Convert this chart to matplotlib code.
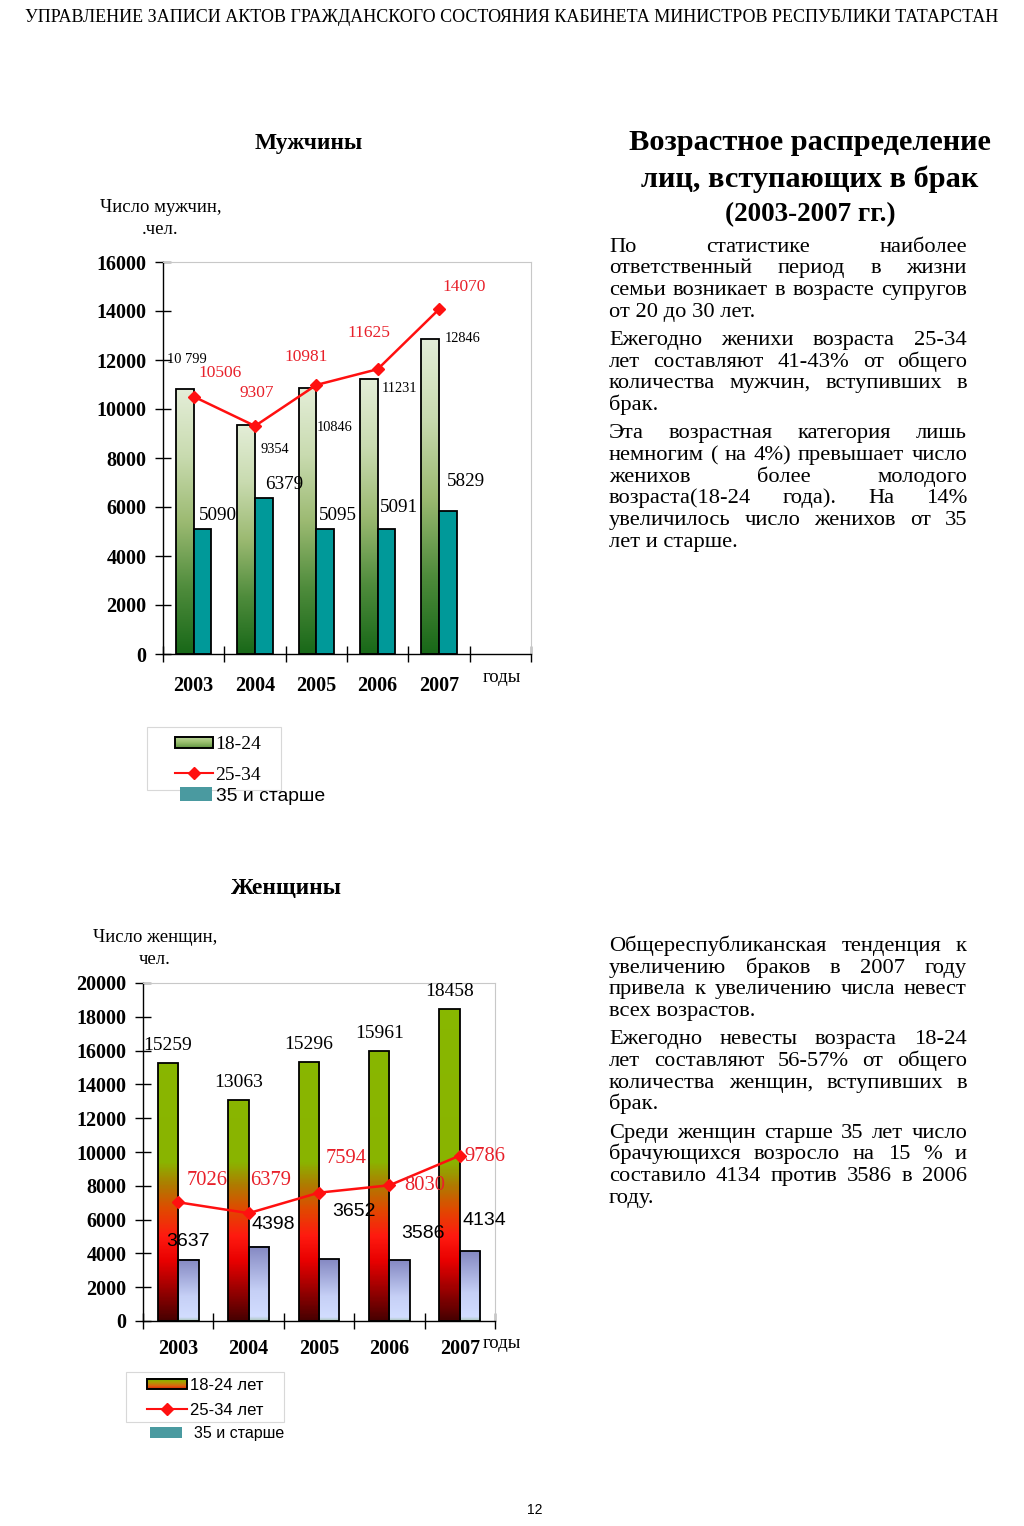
import numpy as np
import matplotlib.pyplot as plt
from matplotlib.colors import LinearSegmentedColormap
from matplotlib.patches import Patch, Rectangle
from matplotlib.lines import Line2D
from matplotlib.legend_handler import HandlerBase

# ---- data ----
years = ['2003', '2004', '2005', '2006', '2007']

men_18_24 = [10799, 9354, 10846, 11231, 12846]
men_25_34 = [10506, 9307, 10981, 11625, 14070]
men_35 = [5090, 6379, 5095, 5091, 5829]
men_18_24_txt = ['10 799', '9354', '10846', '11231', '12846']

women_18_24 = [15259, 13063, 15296, 15961, 18458]
women_25_34 = [7026, 6379, 7594, 8030, 9786]
women_35 = [3637, 4398, 3652, 3586, 4134]

header = 'УПРАВЛЕНИЕ ЗАПИСИ АКТОВ ГРАЖДАНСКОГО СОСТОЯНИЯ КАБИНЕТА МИНИСТРОВ РЕСПУБЛИКИ ТАТАРСТАН'
title_lines = ['Возрастное распределение', 'лиц, вступающих в брак', '(2003-2007 гг.)']
text_top = [
    ['По статистике наиболее', 'ответственный период в жизни',
     'семьи возникает в возрасте супругов', 'от 20 до 30 лет.'],
    ['Ежегодно женихи возраста 25-34', 'лет составляют 41-43% от общего',
     'количества мужчин, вступивших в', 'брак.'],
    ['Эта возрастная категория лишь', 'немногим ( на 4%) превышает число',
     'женихов более молодого', 'возраста(18-24 года). На 14%',
     'увеличилось число женихов от 35', 'лет и старше.'],
]
text_bottom = [
    ['Общереспубликанская тенденция к', 'увеличению браков в 2007 году',
     'привела к увеличению числа невест', 'всех возрастов.'],
    ['Ежегодно невесты возраста 18-24', 'лет составляют 56-57% от общего',
     'количества женщин, вступивших в', 'брак.'],
    ['Среди женщин старше 35 лет число', 'брачующихся возросло на 15 % и',
     'составило 4134 против 3586 в 2006', 'году.'],
]

# label offsets in pixels (layout only)
off_m_young = [(2, 30), (29, -25), (27, -39), (31, -10), (32, 1)]
off_m_mid = [(26, 24), (2, 33), (-10, 28), (-9, 36), (25, 22)]
off_m_old = [(15, 14), (20, 13), (13, 14), (12, 22), (18, 30)]
off_w_mid = [(29, 22), (22, 33), (27, 34), (35, 0), (25, -1)]
off_w_old = [(0, 18), (14, 22), (25, 48), (23, 27), (14, 31)]

W, H = 1024, 1526
SERIF = 'Liberation Serif'
SANS = 'Liberation Sans'
plt.rcParams['font.family'] = SERIF

fig = plt.figure(figsize=(W / 100, H / 100), dpi=100)


def fx(x):
    return x / W


def fy(y):
    return 1 - y / H


def add_ax(x0, y0, x1, y1):
    return fig.add_axes([fx(x0), fy(y1), (x1 - x0) / W, (y1 - y0) / H])


def grad_bar(ax, x, h, w, cmap, vmax=None):
    if vmax is None:
        img = np.linspace(0, 1, 256).reshape(-1, 1)
    else:
        img = (np.linspace(0, h, 256) / vmax).reshape(-1, 1)
    ax.imshow(img, extent=(x - w / 2, x + w / 2, 0, h), origin='lower',
              aspect='auto', cmap=cmap, vmin=0, vmax=1, zorder=1,
              interpolation='bilinear')


class GradHandle:
    def __init__(self, cmap, lo=0.0, hi=1.0):
        self.cmap, self.lo, self.hi = cmap, lo, hi


class HandlerGrad(HandlerBase):
    def create_artists(self, legend, orig, xd, yd, width, height, fontsize, trans):
        n = 12
        arts = []
        for k in range(n):
            c = orig.cmap(orig.lo + (orig.hi - orig.lo) * (k + 0.5) / n)
            arts.append(Rectangle((-xd, -yd + height * k / n), width, height / n + 0.3,
                                  facecolor=c, edgecolor='none', transform=trans))
        arts.append(Rectangle((-xd, -yd), width, height, facecolor='none',
                              edgecolor='black', lw=1.4, transform=trans))
        return arts


def style_axes(ax, nslots, ymax, xpad):
    ax.set_xlim(-0.5, nslots - 0.5)
    ax.set_ylim(0, ymax)
    ax.set_xticks(np.arange(nslots + 1) - 0.5)
    ax.set_xticklabels([])
    ax.set_xticks(np.arange(len(years)), minor=True)
    ax.set_xticklabels(years, minor=True, fontsize=14.5, fontweight='bold')
    ax.tick_params(axis='x', which='major', direction='inout', length=12, width=1)
    ax.tick_params(axis='x', which='minor', length=0, pad=xpad)
    ax.set_yticks(np.arange(0, ymax + 1, 2000))
    ax.tick_params(axis='y', direction='inout', length=12, width=1, pad=6, labelsize=14.5)
    for lab in ax.get_yticklabels():
        lab.set_fontweight('bold')
    for s in ['top', 'right']:
        ax.spines[s].set_color('#c8c8c8')
        ax.spines[s].set_linewidth(0.8)
    for s in ['left', 'bottom']:
        ax.spines[s].set_linewidth(1.0)


bw = 0.29
x = np.arange(len(years))

# ---------------- men ----------------
cm_men = LinearSegmentedColormap.from_list(
    'men', ['#186818', '#4f8c3c', '#9cba72', '#c9dbb0', '#e4eed8'])
ax1 = add_ax(163, 262, 531, 654)
for i in range(len(years)):
    grad_bar(ax1, x[i] - bw / 2, men_18_24[i], bw, cm_men)
ax1.bar(x - bw / 2, men_18_24, bw, facecolor='none', edgecolor='black', lw=1.3, zorder=2)
ax1.bar(x + bw / 2, men_35, bw, color='#009999', edgecolor='black', lw=1.3, zorder=2)
ax1.plot(x, men_25_34, color='#ff1010', lw=1.8, marker='D', ms=6, zorder=4)
style_axes(ax1, 6, 16000, 15.6)

for i in range(len(years)):
    ax1.annotate(men_18_24_txt[i], (x[i] - bw / 2, men_18_24[i]), xytext=off_m_young[i],
                 textcoords='offset pixels', ha='center', va='center', fontsize=10.4, zorder=5)
    ax1.annotate(str(men_25_34[i]), (x[i], men_25_34[i]), xytext=off_m_mid[i],
                 textcoords='offset pixels', ha='center', va='center', fontsize=12.5,
                 color='#e8202a', zorder=5)
    ax1.annotate(str(men_35[i]), (x[i] + bw / 2, men_35[i]), xytext=off_m_old[i],
                 textcoords='offset pixels', ha='center', va='center', fontsize=13.8, zorder=5)

# ---------------- women ----------------
cm_w_young = LinearSegmentedColormap.from_list('wy', [
    (0.0, '#480000'), (0.075, '#8c0000'), (0.175, '#e80000'), (0.25, '#ff1a10'),
    (0.33, '#e04a00'), (0.40, '#b07a00'), (0.47, '#8ab400'), (1.0, '#88b800')])
cm_w_old = LinearSegmentedColormap.from_list('wo', [
    (0.0, '#a8c4b4'), (0.06, '#d2ddff'), (0.4, '#c6d0f6'), (1.0, '#8488c2')])
ax2 = add_ax(143, 983, 495, 1321)
for i in range(len(years)):
    grad_bar(ax2, x[i] - bw / 2, women_18_24[i], bw, cm_w_young, vmax=20000)
    grad_bar(ax2, x[i] + bw / 2, women_35[i], bw, cm_w_old)
ax2.bar(x - bw / 2, women_18_24, bw, facecolor='none', edgecolor='black', lw=1.3, zorder=2)
ax2.bar(x + bw / 2, women_35, bw, facecolor='none', edgecolor='black', lw=1.3, zorder=2)
ax2.plot(x, women_25_34, color='#ff1010', lw=1.8, marker='D', ms=6, zorder=4)
style_axes(ax2, 5, 20000, 13.2)

for i in range(len(years)):
    ax2.annotate(str(women_18_24[i]), (x[i] - bw / 2, women_18_24[i]), xytext=(0, 18),
                 textcoords='offset pixels', ha='center', va='center', fontsize=14, zorder=5)
    ax2.annotate(str(women_25_34[i]), (x[i], women_25_34[i]), xytext=off_w_mid[i],
                 textcoords='offset pixels', ha='center', va='center', fontsize=14.8,
                 color='#e8202a', zorder=5)
    ax2.annotate(str(women_35[i]), (x[i] + bw / 2, women_35[i]), xytext=off_w_old[i],
                 textcoords='offset pixels', ha='center', va='center', fontsize=14,
                 family=SANS, zorder=5)

# ---------------- chart captions ----------------
fig.text(fx(309), fy(144), 'Мужчины', ha='center', va='center', fontsize=16.8, fontweight='bold')
fig.text(fx(161), fy(207), 'Число мужчин,', ha='center', va='center', fontsize=13.5)
fig.text(fx(160), fy(230), '.чел.', ha='center', va='center', fontsize=13.5)
fig.text(fx(502), fy(677), 'годы', ha='center', va='center', fontsize=13.5)

fig.text(fx(286), fy(888), 'Женщины', ha='center', va='center', fontsize=16.8, fontweight='bold')
fig.text(fx(155), fy(937), 'Число женщин,', ha='center', va='center', fontsize=13.5)
fig.text(fx(155), fy(960), 'чел.', ha='center', va='center', fontsize=13.5)
fig.text(fx(502), fy(1344), 'годы', ha='center', va='center', fontsize=13.5)

# ---------------- legends ----------------
cm_men_leg = LinearSegmentedColormap.from_list('ml', ['#5e9440', '#9cc070', '#c0d8a0'])
cm_w_leg = LinearSegmentedColormap.from_list('wl', ['#d01000', '#e06010', '#a8a000', '#80b000'])
fig.patches.append(Rectangle((fx(147), fy(790)), 134 / W, 63 / H, transform=fig.transFigure,
                             facecolor='white', edgecolor='#d8d8d8', lw=0.8))
g_men = GradHandle(cm_men_leg)
fig.legend([g_men, Line2D([], [], color='#ff1010', marker='D', ms=6, lw=1.5)],
           ['18-24', '25-34'], loc='upper left', bbox_to_anchor=(fx(175), fy(736)),
           frameon=False, borderpad=0, borderaxespad=0, handlelength=1.95,
           handleheight=0.5, handletextpad=0.1, labelspacing=0.7,
           handler_map={GradHandle: HandlerGrad()},
           prop={'family': SERIF, 'size': 14})
fig.legend([Patch(facecolor='#4a9aa0')], ['35 и старше'], loc='upper left',
           bbox_to_anchor=(fx(180), fy(787)), frameon=False, borderpad=0, borderaxespad=0,
           handlelength=1.65, handleheight=0.7, handletextpad=0.2,
           prop={'family': SANS, 'size': 13.9})

fig.patches.append(Rectangle((fx(126), fy(1422)), 158 / W, 50 / H, transform=fig.transFigure,
                             facecolor='white', edgecolor='#d8d8d8', lw=0.8))
g_w = GradHandle(cm_w_leg)
fig.legend([g_w, Line2D([], [], color='#ff1010', marker='D', ms=6, lw=1.5)],
           ['18-24 лет', '25-34 лет'], loc='upper left', bbox_to_anchor=(fx(147), fy(1378)),
           frameon=False, borderpad=0, borderaxespad=0, handlelength=2.4,
           handleheight=0.6, handletextpad=0.2, labelspacing=0.6,
           handler_map={GradHandle: HandlerGrad()},
           prop={'family': SANS, 'size': 12})
fig.legend([Patch(facecolor='#4a9aa0')], ['35 и старше'], loc='upper left',
           bbox_to_anchor=(fx(150), fy(1426)), frameon=False, borderpad=0, borderaxespad=0,
           handlelength=2.0, handleheight=0.7, handletextpad=0.75,
           prop={'family': SANS, 'size': 11.5})

# ---------------- page text ----------------
fig.text(fx(512), fy(18), header, ha='center', va='center', fontsize=13)
fig.text(fx(535), fy(1510), '12', ha='center', va='center', fontsize=10, family=SANS)

for k, (line, yy) in enumerate(zip(title_lines, [143, 179, 215])):
    fig.text(fx(810), fy(yy), line, ha='center', va='center',
             fontsize=21.9 if k < 2 else 19.5, fontweight='bold')

renderer = fig.canvas.get_renderer()


def justified(paras, x0, x1, y0, lh=21.7, gap=6.5, size=16.2):
    y = y0
    for para in paras:
        for k, line in enumerate(para):
            words = line.split()
            if k == len(para) - 1 or len(words) == 1:
                fig.text(fx(x0), fy(y), line, ha='left', va='baseline', fontsize=size)
            else:
                texts = [fig.text(0, fy(y), w, ha='left', va='baseline', fontsize=size)
                         for w in words]
                widths = [t.get_window_extent(renderer).width for t in texts]
                space = (x1 - x0 - sum(widths)) / (len(words) - 1)
                xx = x0
                for t, w in zip(texts, widths):
                    t.set_x(fx(xx))
                    xx += w + space
            y += lh
        y += gap


justified(text_top, 609, 967, 251.7)
justified(text_bottom, 609, 967, 951)

fig.savefig('out.png', dpi=100, facecolor='white')
